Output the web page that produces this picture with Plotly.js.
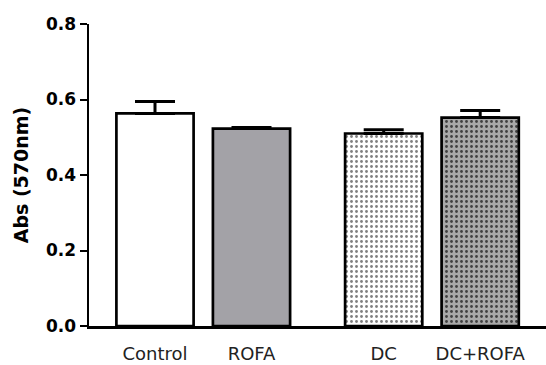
<!DOCTYPE html>
<html>
<head>
<meta charset="utf-8">
<script src="https://cdn.plot.ly/plotly-3.0.1.min.js"></script>
<style>html,body{margin:0;padding:0;background:#fff;}#chart{width:546px;height:365px;}</style>
</head>
<body>
<div id="chart"></div>
<script>
const categories = ["Control", "ROFA", "DC", "DC+ROFA"];
const absValues = [0.563, 0.523, 0.510, 0.552];
const absErrors = [0.032, 0.003, 0.010, 0.019];
const yTickVals = [0.0, 0.2, 0.4, 0.6, 0.8];
const yTickText = ["0.0", "0.2", "0.4", "0.6", "0.8"];

// group gap between the two pairs of bars
const xPos = categories.map((c, i) => i + 1 + (i >= 2 ? 0.37 : 0));

const fills = ["#ffffff", "#a3a2a7", "#ffffff", "#a8a8a8"];
const patterns = [
  {shape: ""},
  {shape: ""},
  {shape: ".", bgcolor: "#ffffff", fgcolor: "#808080", size: 5, solidity: 0.25},
  {shape: ".", bgcolor: "#a9a9a9", fgcolor: "#404040", size: 5, solidity: 0.25}
];

const traces = categories.map((c, i) => ({
  type: "bar",
  x: [xPos[i]],
  y: [absValues[i]],
  width: 0.8,
  marker: {
    color: fills[i],
    line: {color: "#000000", width: 2.7},
    pattern: patterns[i]
  },
  error_y: {
    type: "data",
    symmetric: false,
    array: [absErrors[i]],
    arrayminus: [0],
    color: "#000000",
    thickness: 3,
    width: 20
  },
  showlegend: false,
  hoverinfo: "skip"
}));

const layout = {
  width: 546,
  height: 365,
  margin: {l: 89, r: 0, t: 24, b: 39},
  paper_bgcolor: "#ffffff",
  plot_bgcolor: "#ffffff",
  xaxis: {
    range: [0.316, 5.052],
    tickvals: xPos,
    ticktext: categories,
    showline: true,
    linecolor: "#000000",
    linewidth: 2.5,
    ticks: "",
    showgrid: false,
    zeroline: false,
    ticklabelstandoff: 10,
    tickfont: {family: "DejaVu Sans", size: 18, color: "#222222"},
    fixedrange: true
  },
  yaxis: {
    range: [0, 0.8],
    tickvals: yTickVals,
    ticktext: yTickText,
    showline: true,
    linecolor: "#000000",
    linewidth: 2.5,
    ticks: "outside",
    ticklen: 7,
    tickwidth: 2,
    tickcolor: "#000000",
    showgrid: false,
    zeroline: false,
    tickfont: {family: "DejaVu Sans", size: 17, color: "#000000", weight: "bold"},
    title: {text: "Abs (570nm)", font: {family: "DejaVu Sans", size: 19, color: "#000000", weight: "bold"}, standoff: 13},
    fixedrange: true
  },
  bargap: 0
};

Plotly.newPlot("chart", traces, layout, {displayModeBar: false, staticPlot: true});
</script>
</body>
</html>
